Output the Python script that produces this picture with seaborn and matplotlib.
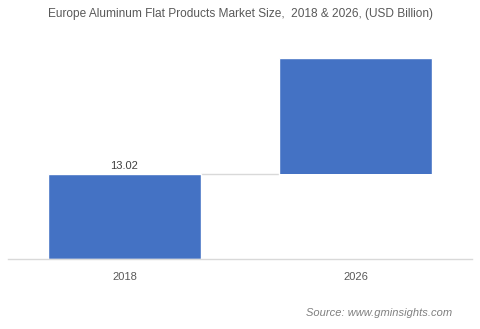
import matplotlib
matplotlib.use("Agg")
import matplotlib.pyplot as plt
import seaborn as sns
import pandas as pd

years = ["2018", "2026"]
values = [13.02, 30.8]
labels = ["13.02", ""]

sns.set_theme(style="white")
plt.rcParams['font.family'] = ['Liberation Sans', 'DejaVu Sans']

fig = plt.figure(figsize=(4.8, 3.29), dpi=100)
ax = fig.add_axes([8/480, 70/329, 464/480, 209/329])

bar_color = "#4472C4"

# 2026 shown as floating segment above the 2018 level (hidden base)
sns.barplot(x=years, y=values, color=bar_color, saturation=1, width=0.66, ax=ax, zorder=2)
sns.barplot(x=years[1:], y=[values[0]], color="white", saturation=1, width=0.66, ax=ax,
            order=years, zorder=2.1, linewidth=0)

patches = ax.patches
p1 = patches[0]
p2 = patches[1]
ax.plot([p1.get_x() + p1.get_width(), p2.get_x()], [values[0], values[0]],
        color="#d9d9d9", lw=1, zorder=1)

ax.text(p1.get_x() + p1.get_width() / 2, values[0] + 0.4, labels[0],
        ha="center", va="bottom", fontsize=8, color="#404040")

ax.set_xlim(-0.504, 1.504)
ax.set_ylim(0, 32.0)
ax.set_yticks([])
ax.set_xlabel("")
ax.set_ylabel("")
for s in ["top", "right", "left"]:
    ax.spines[s].set_visible(False)
ax.spines["bottom"].set_color("#d9d9d9")
ax.spines["bottom"].set_linewidth(1)
ax.spines["bottom"].set_zorder(5)
ax.tick_params(axis="x", length=0, pad=9, labelsize=8, labelcolor="#595959")

fig.text(0.5, 1 - 14/329, "Europe Aluminum Flat Products Market Size,  2018 & 2026, (USD Billion)",
         ha="center", va="center", fontsize=8.6, color="#595959")
fig.text(452/480, 1 - 313/329, "Source: www.gminsights.com", ha="right", va="center",
         fontsize=8, style="italic", color="#7f7f7f")

fig.savefig("out.png", dpi=100)
